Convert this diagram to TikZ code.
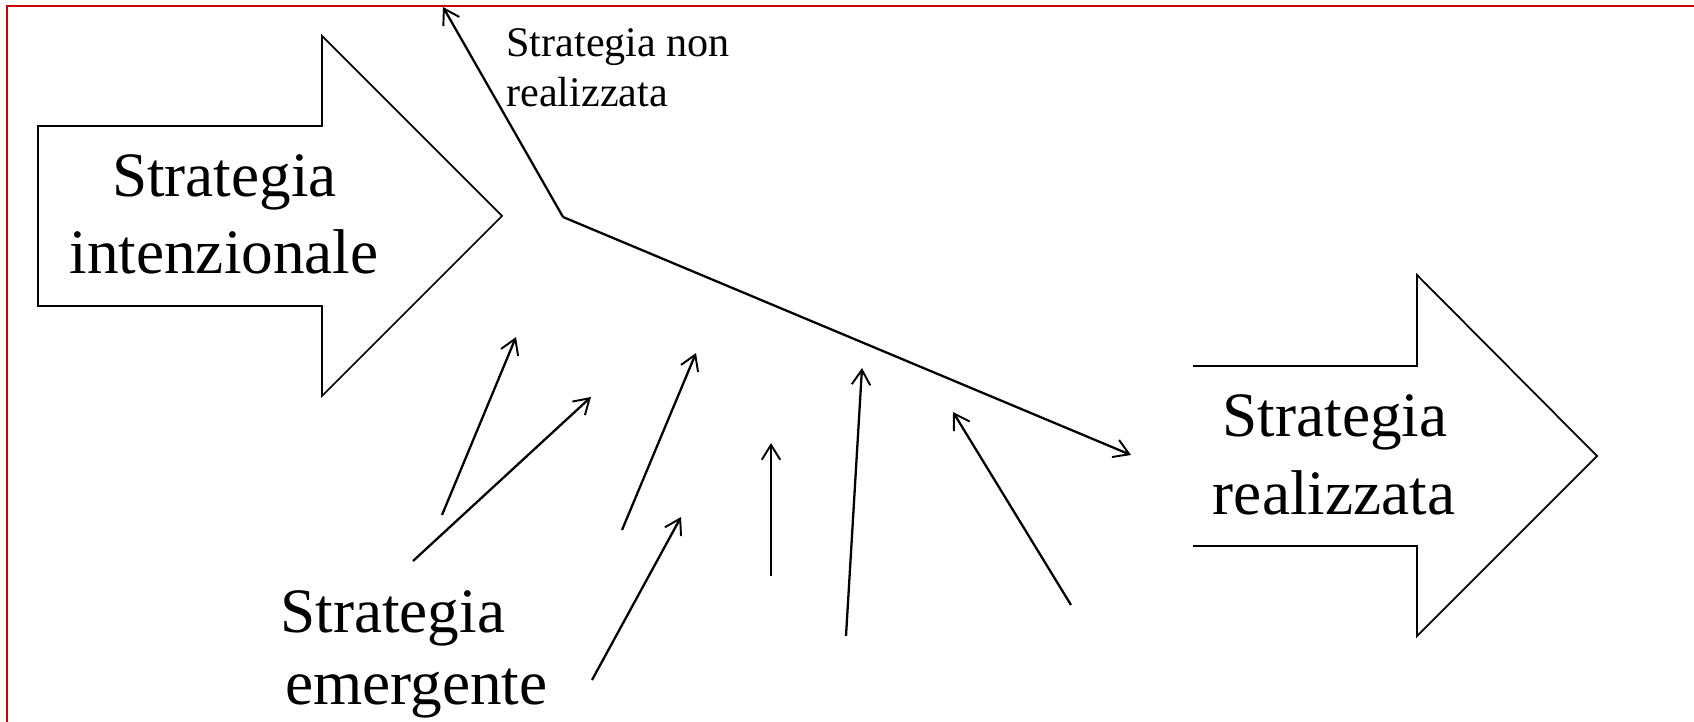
\documentclass[tikz,border=0pt]{standalone}
\usepackage{fontspec}
\setmainfont{Liberation Serif}
\usetikzlibrary{arrows.meta}
\begin{document}
\begin{tikzpicture}[x=0.02cm,y=-0.02cm,
  blockarrow/.style={draw=black, line width=1pt, line join=miter},
  conn/.style={draw=black, line width=1.3pt, -{Straight Barb[length=8.5pt,width=10.5pt,line width=1.1pt]}},
  big/.style={font=\fontsize{36}{43}\selectfont, inner sep=0pt, anchor=base},
  bigl/.style={font=\fontsize{36}{43}\selectfont, inner sep=0pt, anchor=base west},
  small/.style={font=\fontsize{24}{29}\selectfont, inner sep=0pt, anchor=base west},
]
\useasboundingbox (0,0) rectangle (1694,722);
% frame
\draw[red!80!black, line width=1.3pt] (7,722) -- (7,6) -- (1694,6);
% intended strategy arrow
\draw[blockarrow] (38,126) -- (322,126) -- (322,36) -- (502,216) -- (322,396) -- (322,306) -- (38,306) -- cycle;
% realized strategy arrow (open on the left)
\draw[blockarrow] (1193,366) -- (1417,366) -- (1417,275) -- (1597,456) -- (1417,636) -- (1417,546) -- (1193,546);
% texts
\node[big] (int1) at (224.5,197) {Strategia};
\node[big] (int2) at (224,274) {intenzionale};
\node[big] (real1) at (1335,437) {Strategia};
\node[big] (real2) at (1334,515) {realizzata};
\node[bigl] (em1) at (280,632) {Strategia};
\node[bigl] (em2) at (285,704) {emergente};
\node[small] (nr1) at (506,57) {Strategia non};
\node[small] (nr2) at (506,107) {realizzata};
% main path
\coordinate (apex) at (563,217);
\coordinate (nrtip) at (443,7);
\coordinate (rtip) at (1131,455);
\draw[conn] (apex) -- (nrtip);
\draw[conn] (apex) -- (rtip);
% emergent arrows
\coordinate (e1a) at (442,515); \coordinate (e1b) at (516,337);
\coordinate (e2a) at (413,561); \coordinate (e2b) at (591,397);
\coordinate (e3a) at (622,530); \coordinate (e3b) at (696,353);
\coordinate (e4a) at (592,680); \coordinate (e4b) at (681,517);
\coordinate (e5a) at (771,576); \coordinate (e5b) at (771,443);
\coordinate (e6a) at (846,636); \coordinate (e6b) at (862,368);
\coordinate (e7a) at (1071,605); \coordinate (e7b) at (953,412);
\foreach \i in {1,...,7} \draw[conn] (e\i a) -- (e\i b);
\end{tikzpicture}
\end{document}
